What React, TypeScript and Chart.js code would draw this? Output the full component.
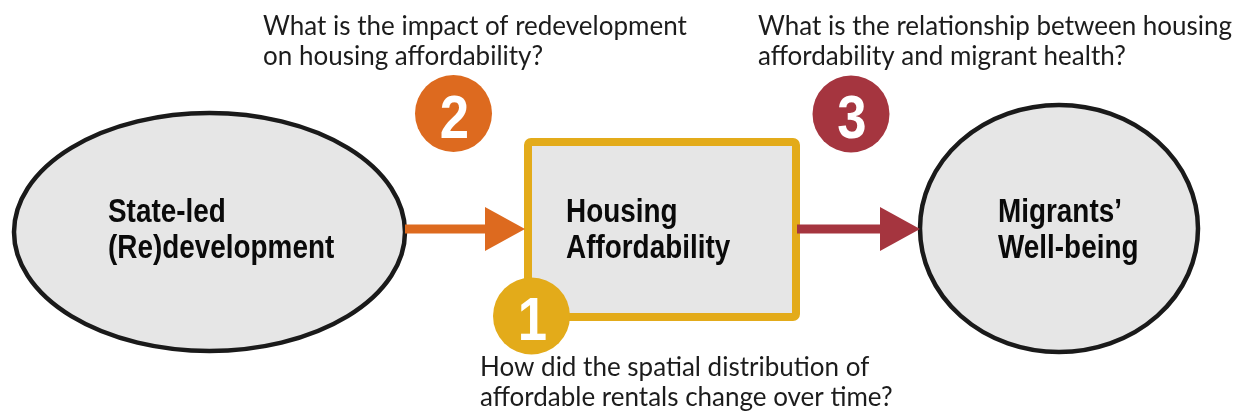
import { useEffect, useRef } from "react";
import { Chart, registerables } from "chart.js";

Chart.register(...registerables);

// ---- diagram data (values on a 0..1243 x 0..416 coordinate scale) ----
const NODE_LABELS = [
  ["State-led", "(Re)development"],
  ["Housing", "Affordability"],
  ["Migrants\u2019", "Well-being"],
];
const NODE_SHAPE = ["ellipse", "rect", "ellipse"];
const NODE_X = [209.5, 662, 1059];
const NODE_Y = [232, 229.5, 228.5];
const NODE_W = [391, 268, 278];
const NODE_H = [238, 175, 247];
const NODE_LABEL_X = [108, 566, 998];
const NODE_LABEL_Y = [222, 222, 222];

const ARROW_FROM = [405, 797];
const ARROW_TO = [525, 920];
const ARROW_Y = [229, 229];
const ARROW_COLOR = ["#dd6a1f", "#a5353f"];

const BADGE_NUM = ["1", "2", "3"];
const BADGE_X = [531.5, 453.5, 851];
const BADGE_Y = [316, 113.5, 114];
const BADGE_COLOR = ["#e3ab1a", "#dd6a1f", "#a5353f"];

const QUESTION_LINES = [
  ["How did the spatial distribution of", "affordable rentals change over time?"],
  ["What is the impact of redevelopment", "on housing affordability?"],
  ["What is the relationship between housing", "affordability and migrant health?"],
];
const QUESTION_X = [480, 263, 758];
const QUESTION_Y = [376, 35, 35];

function narrowText(ctx: CanvasRenderingContext2D, t: string, x: number, y: number, k: number) {
  ctx.save();
  ctx.translate(x, y);
  ctx.scale(k, 1);
  ctx.fillText(t, 0, 0);
  ctx.restore();
}

const diagramPlugin = {
  id: "diagram",
  afterDatasetsDraw(chart: any) {
    const ctx: CanvasRenderingContext2D = chart.ctx;
    const xs = chart.scales.x;
    const ys = chart.scales.y;
    const px = (v: number) => xs.getPixelForValue(v);
    const py = (v: number) => ys.getPixelForValue(v);
    const dx = (v: number) => Math.abs(px(v) - px(0));
    const dy = (v: number) => Math.abs(py(v) - py(0));

    ctx.save();
    // nodes
    NODE_X.forEach((cx, i) => {
      const x = px(cx), y = py(NODE_Y[i]);
      const w = dx(NODE_W[i]), h = dy(NODE_H[i]);
      ctx.beginPath();
      if (NODE_SHAPE[i] === "ellipse") {
        ctx.ellipse(x, y, w / 2, h / 2, 0, 0, Math.PI * 2);
        ctx.fillStyle = "#e6e6e6";
        ctx.fill();
        ctx.lineWidth = 4.5;
        ctx.strokeStyle = "#1a1a1a";
        ctx.stroke();
      } else {
        (ctx as any).roundRect(x - w / 2, y - h / 2, w, h, 3);
        ctx.fillStyle = "#e6e6e6";
        ctx.fill();
        ctx.lineWidth = 8;
        ctx.strokeStyle = "#e3ab1a";
        ctx.stroke();
      }
    });

    // arrows
    ARROW_FROM.forEach((x0, i) => {
      const y = py(ARROW_Y[i]);
      const x1 = px(ARROW_TO[i]);
      const headLen = 40;
      const headHalf = 22;
      ctx.strokeStyle = ARROW_COLOR[i];
      ctx.fillStyle = ARROW_COLOR[i];
      ctx.lineWidth = 9;
      ctx.beginPath();
      ctx.moveTo(px(x0), y);
      ctx.lineTo(x1 - headLen + 2, y);
      ctx.stroke();
      ctx.beginPath();
      ctx.moveTo(x1, y);
      ctx.lineTo(x1 - headLen, y - headHalf);
      ctx.lineTo(x1 - headLen, y + headHalf);
      ctx.closePath();
      ctx.fill();
    });

    // node labels
    ctx.fillStyle = "#0a0a0a";
    ctx.textAlign = "left";
    ctx.textBaseline = "alphabetic";
    ctx.font = 'bold 33px "Liberation Sans", Arial, sans-serif';
    NODE_LABELS.forEach((lines, i) => {
      lines.forEach((t, j) => {
        narrowText(ctx, t, px(NODE_LABEL_X[i]), py(NODE_LABEL_Y[i] + j * 36), 0.845);
      });
    });

    // badges
    BADGE_X.forEach((cx, i) => {
      const x = px(cx), y = py(BADGE_Y[i]);
      ctx.beginPath();
      ctx.arc(x, y, 38.5, 0, Math.PI * 2);
      ctx.fillStyle = BADGE_COLOR[i];
      ctx.fill();
      ctx.fillStyle = "#ffffff";
      ctx.textAlign = "center";
      ctx.font = 'bold 62px "Liberation Sans", Arial, sans-serif';
      narrowText(ctx, BADGE_NUM[i], x + 1, y + 24, 0.85);
    });

    // questions
    ctx.fillStyle = "#1c1c1c";
    ctx.textAlign = "left";
    ctx.font = '400 26px Lato, "Open Sans", sans-serif';
    QUESTION_LINES.forEach((lines, i) => {
      lines.forEach((t, j) => {
        ctx.fillText(t, px(QUESTION_X[i]), py(QUESTION_Y[i] + j * 30));
      });
    });
    ctx.restore();
  },
};

export default function App() {
  const ref = useRef<HTMLCanvasElement | null>(null);
  useEffect(() => {
    if (!ref.current) return;
    const chart = new Chart(ref.current, {
      type: "scatter",
      data: {
        datasets: [
          {
            data: NODE_X.map((x, i) => ({ x, y: NODE_Y[i] })),
            pointRadius: 0,
            showLine: false,
          },
        ],
      },
      options: {
        animation: false,
        responsive: true,
        maintainAspectRatio: false,
        layout: { padding: 0 },
        events: [],
        plugins: { legend: { display: false }, tooltip: { enabled: false } },
        scales: {
          x: { type: "linear", min: 0, max: 1243, display: false },
          y: { type: "linear", min: 0, max: 416, reverse: true, display: false },
        },
      },
      plugins: [diagramPlugin],
    } as any);
    return () => chart.destroy();
  }, []);
  return (
    <div style={{ position: "absolute", left: 0, top: 0, width: 1243, height: 416, background: "#ffffff" }}>
      <canvas ref={ref} />
    </div>
  );
}
